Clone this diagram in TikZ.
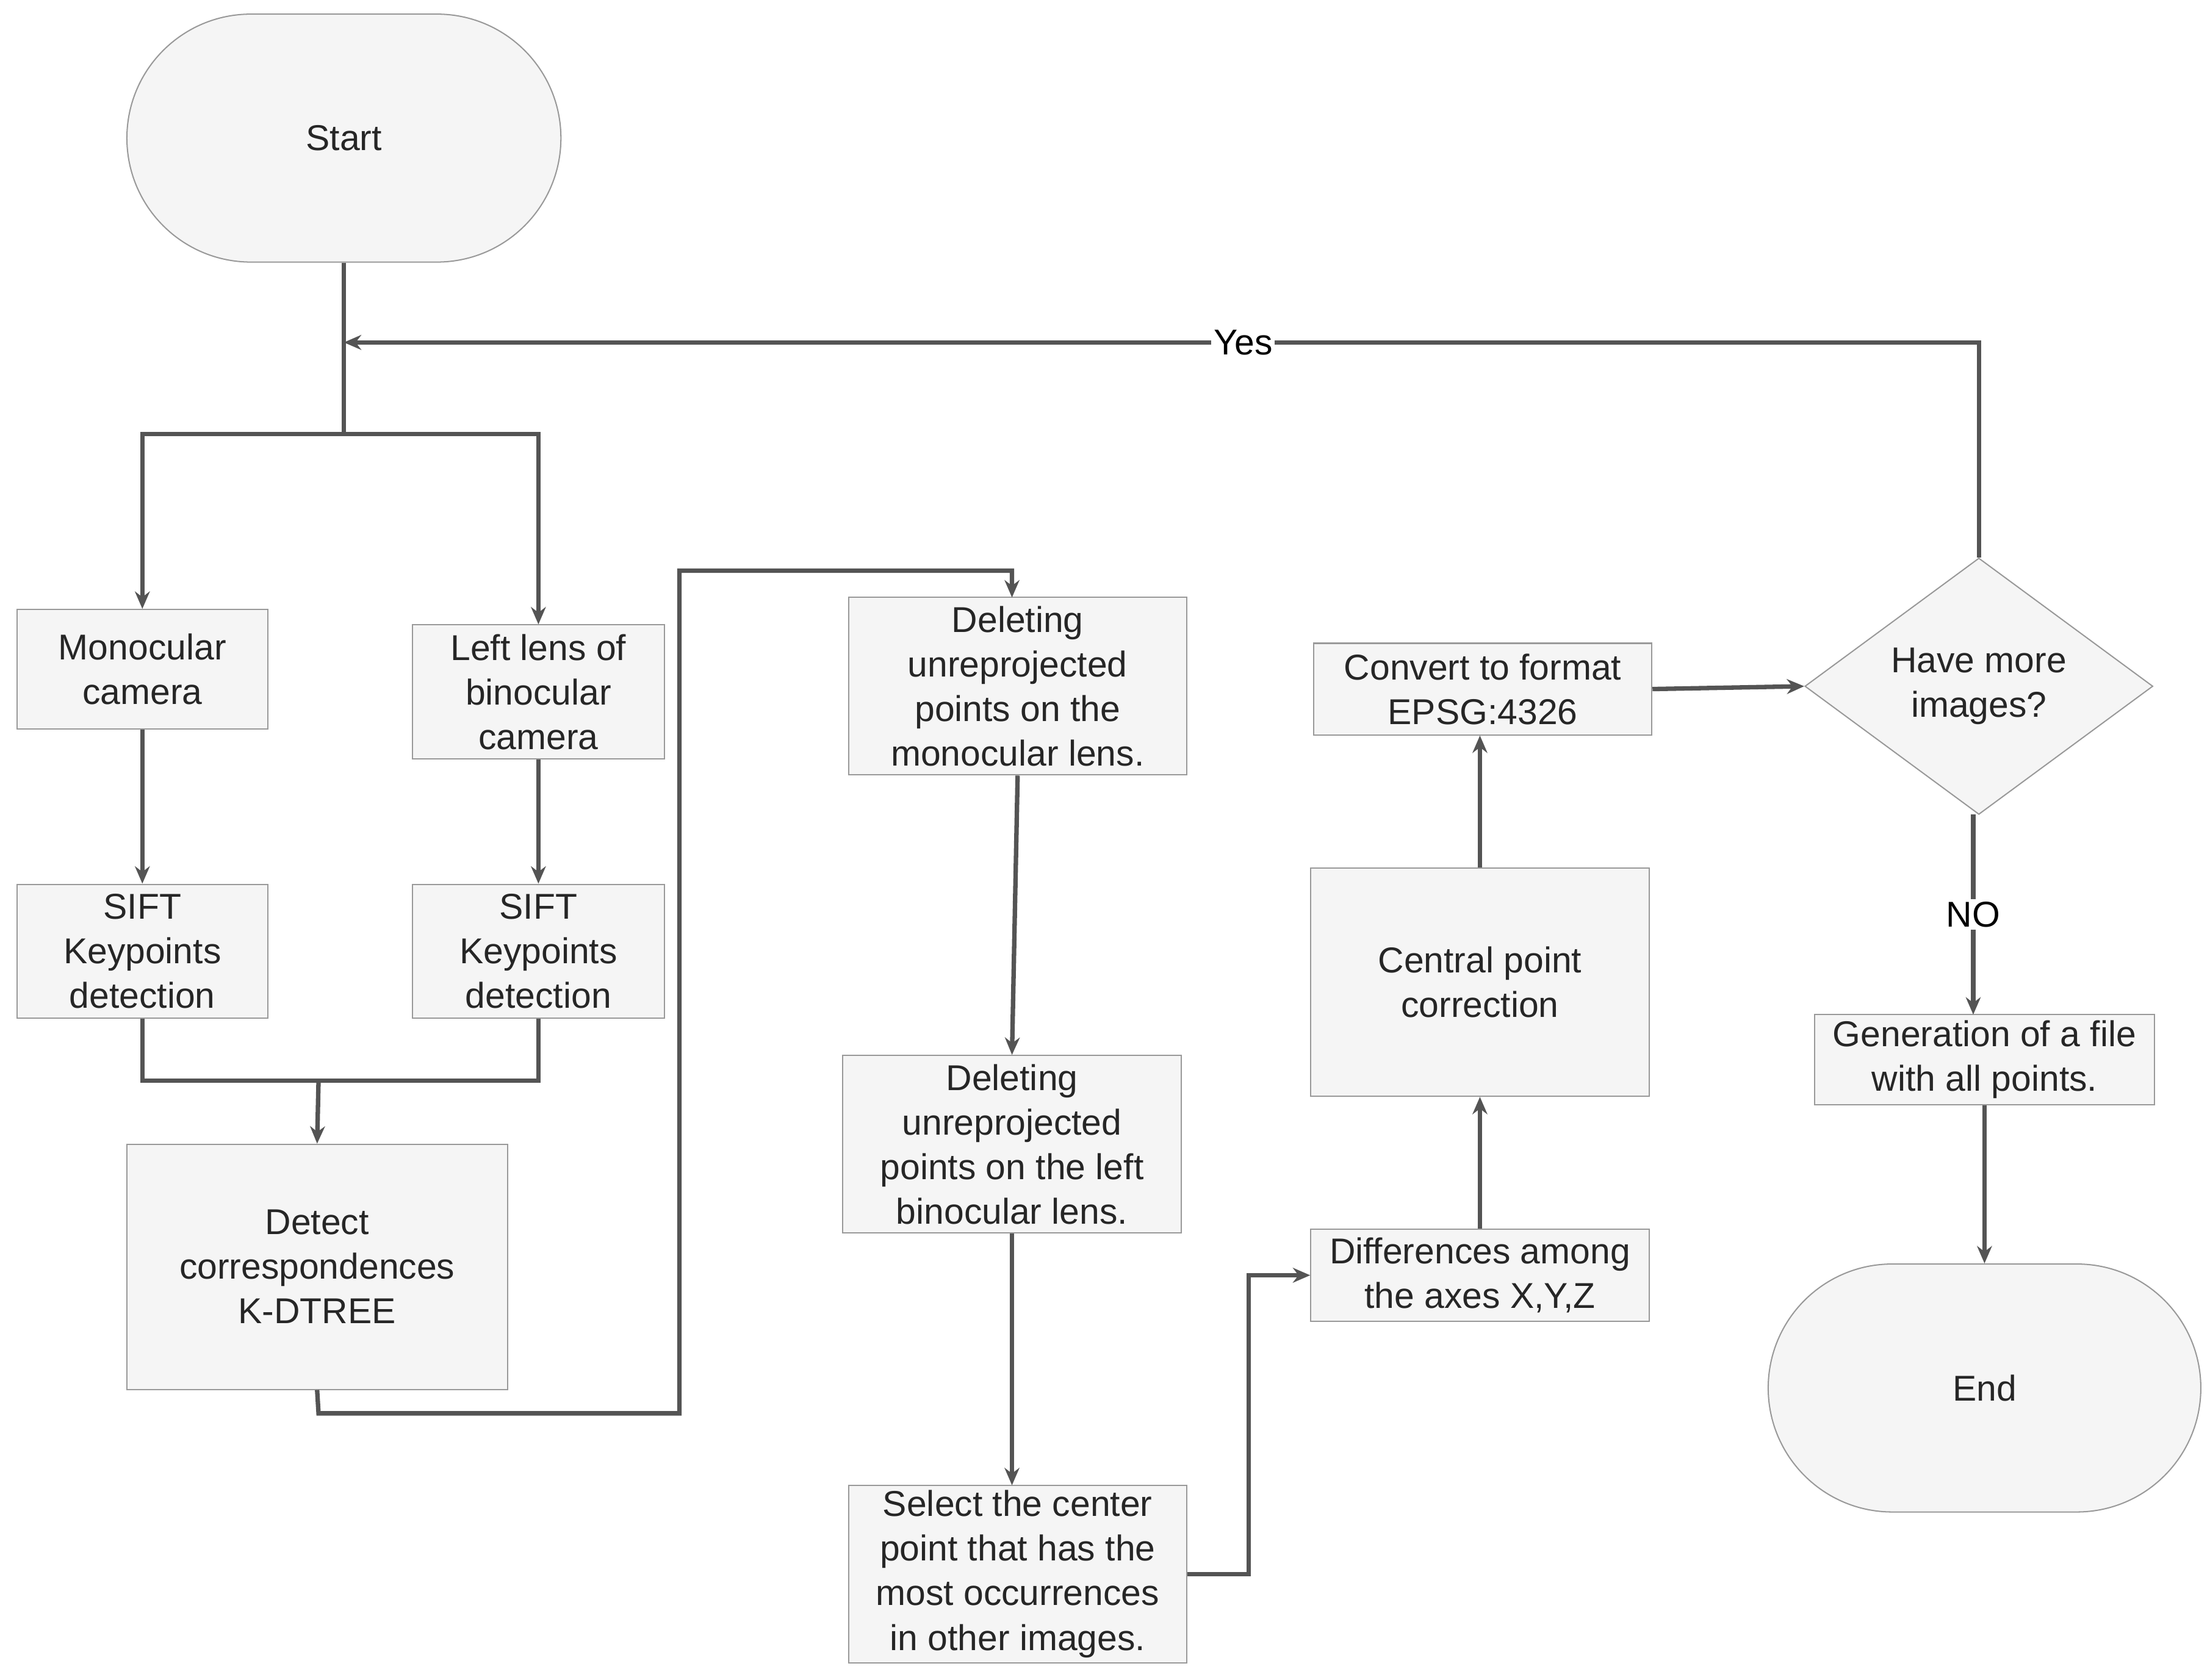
\documentclass[tikz,border=0pt]{standalone}
\usepackage{fontspec}
\setmainfont{Liberation Sans}
\usetikzlibrary{shapes.misc,shapes.geometric,arrows.meta}
\begin{document}
\begin{tikzpicture}[x=0.02cm,y=-0.02cm,
  box/.style={draw=black!40,line width=0.5pt,fill=black!4,align=center,inner sep=0pt,text=black!85,
    font=\fontsize{14.5}{18}\selectfont},
  term/.style={box,rounded rectangle},
  conn/.style={draw=black!67,line width=1.8pt},
  arr/.style={conn,-{Stealth[length=7pt,width=6pt]}},
  lbl/.style={font=\fontsize{14.5}{18}\selectfont,fill=white,inner sep=1pt}]
\useasboundingbox (0,0) rectangle (1568,1192);
\node[term,minimum width=6.16cm,minimum height=3.52cm] (start) at (244,98) {Start};
\node[box,minimum width=3.56cm,minimum height=1.7cm] (mono) at (101,475) {Monocular\\camera};
\node[box,minimum width=3.58cm,minimum height=1.9cm] (left) at (382,491) {Left lens of\\binocular\\camera};
\node[box,minimum width=3.56cm,minimum height=1.9cm] (sift1) at (101,675) {SIFT\\Keypoints\\detection};
\node[box,minimum width=3.58cm,minimum height=1.9cm] (sift2) at (382,675) {SIFT\\Keypoints\\detection};
\node[box,minimum width=5.4cm,minimum height=3.48cm] (detect) at (225,899) {Detect\\correspondences\\K-DTREE};
\node[box,minimum width=4.8cm,minimum height=2.52cm] (del1) at (722,487) {Deleting\\unreprojected\\points on the\\monocular lens.};
\node[box,minimum width=4.8cm,minimum height=2.52cm] (del2) at (718,812) {Deleting\\unreprojected\\points on the left\\binocular lens.};
\node[box,minimum width=4.8cm,minimum height=2.52cm] (sel) at (722,1117) {Select the center\\point that has the\\most occurrences\\in other images.};
\node[box,minimum width=4.8cm,minimum height=1.3cm] (diff) at (1050,905) {Differences among\\the axes X,Y,Z};
\node[box,minimum width=4.8cm,minimum height=3.24cm] (central) at (1050,697) {Central point\\correction};
\node[box,minimum width=4.8cm,minimum height=1.3cm] (conv) at (1052,489) {Convert to format\\EPSG:4326};
\node[box,diamond,minimum width=4.94cm,minimum height=3.64cm] (more) at (1404,487) {Have more\\images?};
\node[box,minimum width=4.82cm,minimum height=1.28cm] (gen) at (1408,752) {Generation of a file\\with all points.};
\node[term,minimum width=6.14cm,minimum height=3.52cm] (end) at (1408,985) {End};

\coordinate (br) at (244,308);
\coordinate (yj) at (244,243);
\draw[conn] (start.south) -- (br);
\draw[arr] (br) -- (101,308) -- (mono.north);
\draw[arr] (br) -- (382,308) -- (left.north);
\draw[arr] (mono) -- (sift1);
\draw[arr] (left) -- (sift2);
\coordinate (jn) at (226,767);
\draw[conn] (sift1.south) -- (101,767) -- (jn) -- (382,767) -- (sift2.south);
\draw[arr] (jn) -- (detect.north);
\draw[arr] (detect.south) -- (226,1003) -- (482,1003) -- (482,405) -- (718,405) -- (718,424);
\draw[arr] (del1.south) -- (del2.north);
\draw[arr] (del2.south) -- (718,1054);
\draw[arr] (sel.east) -- (886,1117) -- (886,905) -- (diff.west);
\draw[arr] (diff) -- (central);
\draw[arr] (central) -- (1050,522);
\draw[arr] (conv.east) -- (more.west);
\draw[arr] (more.north) -- (1404,243) -- node[lbl,pos=0.45]{Yes} (yj);
\draw[arr] (1400,578) -- node[lbl]{NO} (1400,720);
\draw[arr] (gen.south) -- (end.north);
\end{tikzpicture}
\end{document}
